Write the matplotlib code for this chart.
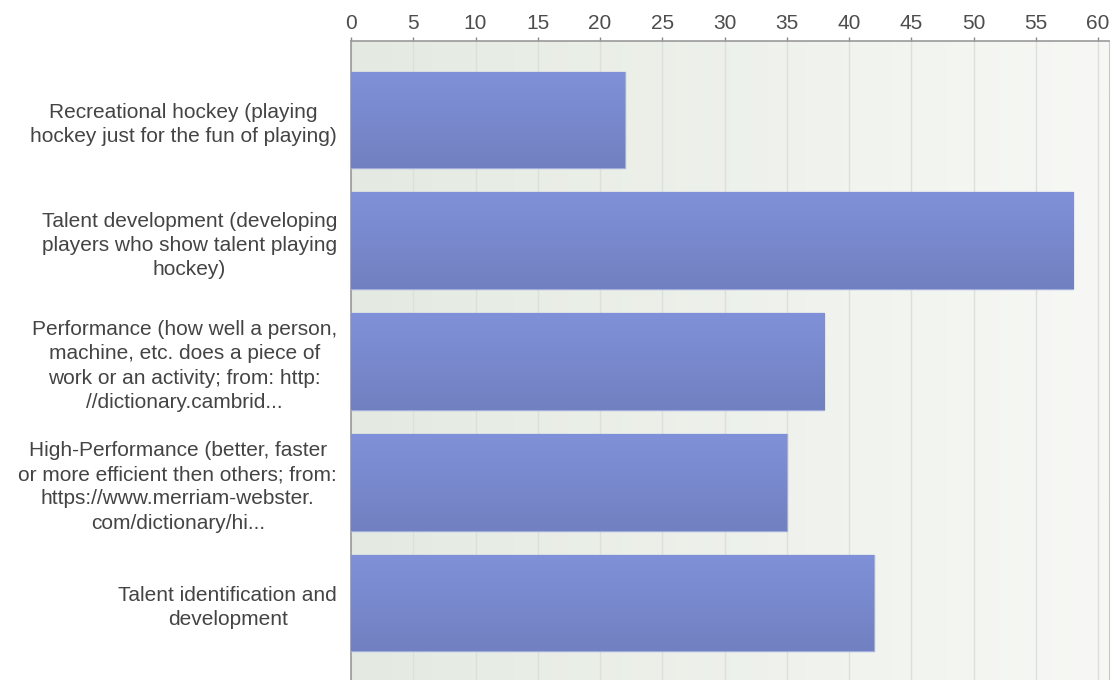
import numpy as np
import matplotlib
matplotlib.use("Agg")
import matplotlib.pyplot as plt
from matplotlib.colors import LinearSegmentedColormap

categories = [
    "Recreational hockey (playing\nhockey just for the fun of playing)",
    "Talent development (developing\nplayers who show talent playing\nhockey)",
    "Performance (how well a person,\nmachine, etc. does a piece of\nwork or an activity; from: http:\n//dictionary.cambrid...",
    "High-Performance (better, faster\nor more efficient then others; from:\nhttps://www.merriam-webster.\ncom/dictionary/hi...",
    "Talent identification and\ndevelopment",
]
values = [22, 58, 38, 35, 42]
xticks = [0, 5, 10, 15, 20, 25, 30, 35, 40, 45, 50, 55, 60]

plt.rcParams['font.family'] = ['Liberation Sans', 'DejaVu Sans']

W, H = 1119, 680
fig = plt.figure(figsize=(W / 100, H / 100), dpi=100)
left, right, top, bottom = 351, 1109, 41, 682
ax = fig.add_axes([left / W, (H - bottom) / H, (right - left) / W, (bottom - top) / H])

# background gradient
bg = LinearSegmentedColormap.from_list("bg", ["#e4eae1", "#f7f8f5"])
ax.imshow(np.linspace(0, 1, 256).reshape(1, -1), cmap=bg, aspect="auto",
          extent=[0, 1, 0, 1], transform=ax.transAxes, zorder=0)

ypos = np.arange(len(values))
bars = ax.barh(ypos, values, height=0.8, color="#7a8ad0", edgecolor="#a3addc",
               linewidth=1.0, zorder=3)

barcmap = LinearSegmentedColormap.from_list("bar", ["#8191d9", "#7080c0"])
for b in bars:
    x0, y0 = b.get_x(), b.get_y()
    w, h = b.get_width(), b.get_height()
    im = ax.imshow(np.linspace(0, 1, 128).reshape(-1, 1), cmap=barcmap, aspect="auto",
                   extent=[x0, x0 + w, y0 + h, y0], zorder=3.5)
    im.set_clip_path(b)

ax.set_xlim(0, 60.88)
ax.set_ylim(4.655, -0.655)
ax.xaxis.tick_top()
ax.set_xticks(xticks)
ax.set_xticklabels([str(t) for t in xticks], fontsize=15, color="#4d4d4d")
ax.tick_params(axis="x", direction="out", length=3, width=1, color="#888888", pad=3)
ax.grid(axis="x", color="#dcdfda", linewidth=1, zorder=1)
ax.set_axisbelow(True)

ax.set_yticks(ypos)
ax.set_yticklabels(categories, fontsize=15, color="#444444", linespacing=1.35,
                   multialignment="center")
ax.tick_params(axis="y", length=0, pad=10)

for s in ["top", "left"]:
    ax.spines[s].set_color("#999999")
    ax.spines[s].set_linewidth(1.2)
ax.spines["right"].set_color("#c8c8c8")
ax.spines["bottom"].set_visible(False)

fig.savefig("out.png", dpi=100)
